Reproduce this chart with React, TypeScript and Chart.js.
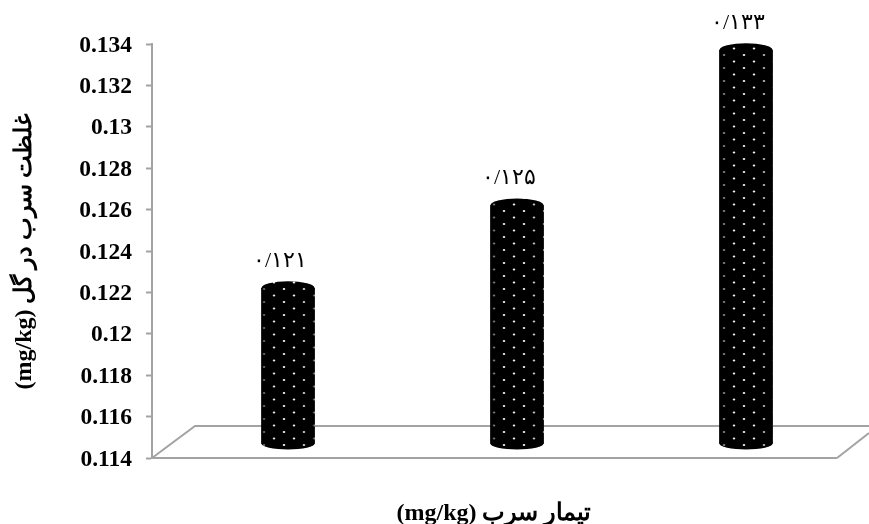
import React, { useEffect, useRef } from "react";
import { Chart, registerables } from "chart.js";

Chart.register(...registerables);

const categories = ["1", "2", "3"];
const barBase = [0.1147, 0.1147, 0.1147];
const barTop = [0.1222, 0.1262, 0.1337];
const valueLabels = ["۰/۱۲۱", "۰/۱۲۵", "۰/۱۳۳"];
const yTicks = ["0.114", "0.116", "0.118", "0.12", "0.122", "0.124", "0.126", "0.128", "0.13", "0.132", "0.134"];
const yTitle = "غلظت سرب در گل (mg/kg)";
const xTitle = "تیمار سرب (mg/kg)";

const GREY = "#a3a3a3";
const SERIF = '"Liberation Serif", "DejaVu Serif", serif';

function dotPattern(): CanvasPattern {
  const c = document.createElement("canvas");
  c.width = 20;
  c.height = 13;
  const g = c.getContext("2d")!;
  g.fillStyle = "#000";
  g.fillRect(0, 0, 20, 13);
  g.fillStyle = "#f0f0f0";
  g.beginPath();
  g.ellipse(4, 3, 1.3, 0.9, 0, 0, Math.PI * 2);
  g.ellipse(14, 9.5, 1.3, 0.9, 0, 0, Math.PI * 2);
  g.fill();
  return g.createPattern(c, "repeat")!;
}

const cylinder = {
  id: "cylinder",
  beforeDatasetsDraw(chart: any) {
    const g = chart.ctx;
    const { left, right, bottom } = chart.chartArea;
    g.save();
    g.strokeStyle = GREY;
    g.lineWidth = 2;
    g.beginPath();
    g.moveTo(left, bottom);
    g.lineTo(left + 43, bottom - 32);
    g.lineTo(chart.width, bottom - 32);
    g.moveTo(right + 1, bottom);
    g.lineTo(chart.width, bottom - 25);
    g.stroke();
    g.restore();
  },
  afterDatasetsDraw(chart: any) {
    const g = chart.ctx;
    const pat = chart.data.datasets[0].backgroundColor;
    chart.getDatasetMeta(0).data.forEach((bar: any, i: number) => {
      const rx = bar.width / 2;
      const top = bar.y;
      const base = bar.base;
      g.save();
      g.fillStyle = pat;
      g.beginPath();
      g.ellipse(bar.x, top, rx, 7, 0, 0, Math.PI * 2);
      g.ellipse(bar.x, base, rx, 6, 0, 0, Math.PI * 2);
      g.fill();
      const edge = g.createLinearGradient(bar.x - rx, 0, bar.x + rx, 0);
      edge.addColorStop(0, "rgba(0,0,0,0.7)");
      edge.addColorStop(0.25, "rgba(0,0,0,0)");
      edge.addColorStop(0.75, "rgba(0,0,0,0)");
      edge.addColorStop(1, "rgba(0,0,0,0.7)");
      g.fillStyle = edge;
      g.beginPath();
      g.ellipse(bar.x, top, rx, 7, 0, Math.PI, 0);
      g.lineTo(bar.x + rx, base);
      g.ellipse(bar.x, base, rx, 6, 0, 0, Math.PI);
      g.closePath();
      g.fill();
      g.fillStyle = "#000";
      g.font = `22px ${SERIF}`;
      g.textAlign = "center";
      g.textBaseline = "middle";
      g.direction = "ltr";
      g.fillText(valueLabels[i], bar.x - 8, top - 27);
      g.restore();
    });
  },
};

export default function App() {
  const ref = useRef<HTMLCanvasElement>(null);
  useEffect(() => {
    document.body.style.margin = "0";
    document.body.style.background = "#fff";
    const chart = new Chart(ref.current!, {
      type: "bar",
      plugins: [cylinder],
      data: {
        datasets: [
          {
            data: categories.map((_, i) => ({ x: i + 1, y: [barBase[i], barTop[i]] })) as any,
            backgroundColor: dotPattern() as any,
            borderWidth: 0,
            barThickness: 53,
            clip: false as any,
          },
        ],
      },
      options: {
        responsive: false,
        animation: false,
        layout: { padding: { top: 44, right: 33 } },
        plugins: { legend: { display: false }, tooltip: { enabled: false } },
        scales: {
          x: {
            type: "linear",
            offset: false,
            min: 0.406,
            max: 3.393,
            grid: { display: false },
            border: { display: true, color: GREY, width: 2 },
            ticks: { display: false },
            title: {
              display: true,
              text: xTitle,
              color: "#000",
              font: { family: SERIF, size: 24, weight: "bold" },
              padding: { top: 40, bottom: -4 },
            },
            afterFit: (s: any) => {
              s.height = 66;
            },
          },
          y: {
            min: 0.114,
            max: 0.134,
            grid: { drawOnChartArea: false, drawTicks: true, tickLength: 6, tickColor: GREY, tickWidth: 2 },
            border: { display: true, color: GREY, width: 2 },
            ticks: {
              stepSize: 0.002,
              autoSkip: false,
              color: "#000",
              padding: 14,
              labelOffset: 1.5,
              font: { family: SERIF, size: 23.5, weight: "bold" },
              callback: (_: any, i: number) => yTicks[i],
            },
            title: {
              display: true,
              text: yTitle,
              color: "#000",
              font: { family: SERIF, size: 24, weight: "bold" },
              padding: { top: 10, bottom: 0 },
            },
            afterFit: (s: any) => {
              s.width = 152;
            },
          },
        },
      },
    } as any);
    return () => chart.destroy();
  }, []);
  return <canvas ref={ref} width={869} height={524} style={{ display: "block", direction: "rtl" }} />;
}
